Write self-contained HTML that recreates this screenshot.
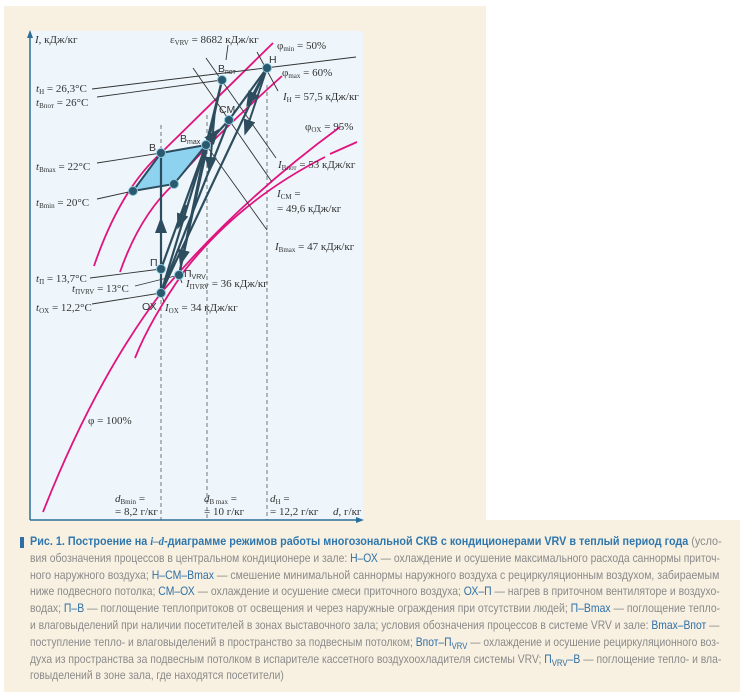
<!DOCTYPE html>
<html><head><meta charset="utf-8"><style>
body{margin:0;width:746px;height:698px;background:#fff;overflow:hidden;position:relative;font-family:"Liberation Sans",sans-serif}
.bg{position:absolute;left:4px;top:6px;width:482px;height:516px;background:#f8f1e2}
.cap{position:absolute;left:4px;top:520px;width:736px;height:172px;background:#f8f1e2}
.txt{position:absolute;left:30px;top:533px;width:700px;font-size:12px;line-height:16.8px;color:#8a8a8a}
.txt div{white-space:nowrap;height:16.8px}
.txt div span.l{display:inline-block;transform-origin:0 0}
.b{color:#2f77ad;font-weight:bold}
.t{color:#2f6fa5}
.sb{font-size:9px;position:relative;top:3px}
.mk{position:absolute;left:20px;top:537px;width:4px;height:11px;background:#2f6fa5}
svg{position:absolute;left:0;top:0}
svg text{font-family:"Liberation Serif",serif;font-size:11px;fill:#333}
.s{font-family:"Liberation Sans",sans-serif;font-size:10.5px;fill:#333}
</style></head><body>
<div class="bg"></div><div class="cap"></div>
<svg width="746" height="698">
<rect x="30" y="31" width="333" height="489" fill="#eef6fb"/>
<defs><marker id="a" markerWidth="8" markerHeight="8" refX="4" refY="4" orient="auto"><path d="M0,1 L8,4 L0,7z" fill="#2d4d5e"/></marker></defs>
<line x1="30" y1="520" x2="30" y2="34" stroke="#2c6f9a" stroke-width="1.5"/>
<path d="M27,38 L30,30 L33,38z" fill="#2c6f9a"/>
<line x1="30" y1="520" x2="360" y2="520" stroke="#2c6f9a" stroke-width="1.5"/>
<path d="M356,517 L364,520 L356,523z" fill="#2c6f9a"/>
<g stroke="#555" stroke-dasharray="4,3" stroke-width="0.8">
<line x1="161" y1="125" x2="161" y2="520"/><line x1="207" y1="115" x2="207" y2="520"/><line x1="267" y1="85" x2="267" y2="520"/></g>
<g fill="none" stroke="#e0147f" stroke-width="1.8">
<path d="M94,266 Q120,190 161,153 Q200,115 273,43"/>
<path d="M120,272 Q140,215 174,184 Q200,150 282,76"/>
<path d="M43,512 Q95,380 161,293 Q240,200 340,127"/>
<path d="M135,358 Q150,320 185,270 Q240,200 325,157 M330,154 L357,142"/>
</g>
<g stroke="#333" stroke-width="0.9" fill="none">
<line x1="92" y1="89" x2="356" y2="57"/>
<line x1="97" y1="97" x2="222" y2="80"/>
<line x1="97" y1="163" x2="161" y2="153"/>
<line x1="97" y1="199" x2="133" y2="191"/>
<line x1="90" y1="278" x2="161" y2="269"/>
<line x1="135" y1="286" x2="179" y2="275"/>
<line x1="92" y1="304" x2="161" y2="293"/>
<line x1="257" y1="52" x2="278" y2="91"/>
<line x1="206" y1="58" x2="276" y2="158"/>
<line x1="193" y1="68" x2="272" y2="182"/>
<line x1="206" y1="145" x2="267" y2="230"/>
<line x1="161" y1="293" x2="164" y2="302"/>
<line x1="179" y1="275" x2="182" y2="283"/>
<line x1="228" y1="45" x2="226" y2="60"/>
</g>
<polygon points="161,153 206,145 174,184 133,191" fill="#8dd3f0" stroke="#2d4d5e" stroke-width="2"/>
<g stroke="#2d4d5e" stroke-width="2.2" fill="none">
<line x1="267" y1="68" x2="161" y2="293"/>
<line x1="267" y1="68" x2="229" y2="120"/>
<line x1="229" y1="120" x2="161" y2="293"/>
<line x1="229" y1="120" x2="206" y2="145"/>
<line x1="161" y1="293" x2="161" y2="153"/>
<line x1="161" y1="269" x2="206" y2="145"/>
<line x1="206" y1="145" x2="222" y2="80"/>
<line x1="222" y1="80" x2="179" y2="275"/>
<line x1="179" y1="275" x2="206" y2="145"/>
<line x1="161" y1="293" x2="206" y2="145"/>
</g>
<g stroke="#2d4d5e" stroke-width="2" marker-end="url(#a)">
<line x1="267" y1="68" x2="250" y2="100"/>
<line x1="267" y1="68" x2="247" y2="128"/>
<line x1="206" y1="145" x2="214" y2="135"/>
<line x1="161" y1="240" x2="161" y2="225"/>
<line x1="215" y1="110" x2="210" y2="165"/>
<line x1="186" y1="205" x2="180" y2="222"/>
<line x1="188" y1="235" x2="182" y2="258"/>
</g>
<g fill="#2b5a6e" stroke="#89c7de" stroke-width="1">
<circle cx="267" cy="68" r="4.5"/><circle cx="222" cy="80" r="4.5"/><circle cx="229" cy="120" r="4.5"/>
<circle cx="206" cy="145" r="4.5"/><circle cx="161" cy="153" r="4.5"/><circle cx="133" cy="191" r="4.5"/>
<circle cx="174" cy="184" r="4.5"/><circle cx="161" cy="269" r="4.5"/><circle cx="179" cy="275" r="4.5"/><circle cx="161" cy="293" r="4.5"/>
</g>
<text x="35" y="43"><tspan font-style="italic">I</tspan>, кДж/кг</text>
<text x="170" y="43">ε<tspan font-size="7" dy="2">VRV</tspan><tspan dy="-2"> = 8682 кДж/кг</tspan></text>
<text x="277" y="49">φ<tspan font-size="7" dy="2">min</tspan><tspan dy="-2"> = 50%</tspan></text>
<text x="282" y="76">φ<tspan font-size="7" dy="2">max</tspan><tspan dy="-2"> = 60%</tspan></text>
<text x="283" y="100"><tspan font-style="italic">I</tspan><tspan font-size="7" dy="2">H</tspan><tspan dy="-2"> = 57,5 кДж/кг</tspan></text>
<text x="305" y="130">φ<tspan font-size="7" dy="2">OX</tspan><tspan dy="-2"> = 95%</tspan></text>
<text x="278" y="168"><tspan font-style="italic">I</tspan><tspan font-size="7" dy="2">Впот</tspan><tspan dy="-2"> = 53 кДж/кг</tspan></text>
<text x="277" y="197"><tspan font-style="italic">I</tspan><tspan font-size="7" dy="2">СМ</tspan><tspan dy="-2"> =</tspan></text>
<text x="277" y="212">= 49,6 кДж/кг</text>
<text x="275" y="250"><tspan font-style="italic">I</tspan><tspan font-size="7" dy="2">Bmax</tspan><tspan dy="-2"> = 47 кДж/кг</tspan></text>
<text x="186" y="287"><tspan font-style="italic">I</tspan><tspan font-size="7" dy="2">ПVRV</tspan><tspan dy="-2"> = 36 кДж/кг</tspan></text>
<text x="165" y="311"><tspan font-style="italic">I</tspan><tspan font-size="7" dy="2">OX</tspan><tspan dy="-2"> = 34 кДж/кг</tspan></text>
<text x="36" y="92"><tspan font-style="italic">t</tspan><tspan font-size="7" dy="2">H</tspan><tspan dy="-2"> = 26,3°C</tspan></text>
<text x="36" y="106"><tspan font-style="italic">t</tspan><tspan font-size="7" dy="2">Впот</tspan><tspan dy="-2"> = 26°C</tspan></text>
<text x="36" y="170"><tspan font-style="italic">t</tspan><tspan font-size="7" dy="2">Bmax</tspan><tspan dy="-2"> = 22°C</tspan></text>
<text x="36" y="206"><tspan font-style="italic">t</tspan><tspan font-size="7" dy="2">Bmin</tspan><tspan dy="-2"> = 20°C</tspan></text>
<text x="36" y="282"><tspan font-style="italic">t</tspan><tspan font-size="7" dy="2">П</tspan><tspan dy="-2"> = 13,7°C</tspan></text>
<text x="72" y="292"><tspan font-style="italic">t</tspan><tspan font-size="7" dy="2">ПVRV</tspan><tspan dy="-2"> = 13°C</tspan></text>
<text x="36" y="311"><tspan font-style="italic">t</tspan><tspan font-size="7" dy="2">OX</tspan><tspan dy="-2"> = 12,2°C</tspan></text>
<text x="88" y="424">φ = 100%</text>
<text x="115" y="502"><tspan font-style="italic">d</tspan><tspan font-size="7" dy="2">Bmin</tspan><tspan dy="-2"> =</tspan></text>
<text x="115" y="515">= 8,2 г/кг</text>
<text x="204" y="502"><tspan font-style="italic">d</tspan><tspan font-size="7" dy="2">B max</tspan><tspan dy="-2"> =</tspan></text>
<text x="204" y="515">= 10 г/кг</text>
<text x="270" y="502"><tspan font-style="italic">d</tspan><tspan font-size="7" dy="2">H</tspan><tspan dy="-2"> =</tspan></text>
<text x="270" y="515">= 12,2 г/кг</text>
<text x="333" y="515"><tspan font-style="italic">d</tspan>, г/кг</text>
<text class="s" x="269" y="63">Н</text>
<text class="s" x="218" y="72">В<tspan font-size="7" dy="2">пот</tspan></text>
<text class="s" x="219" y="113">СМ</text>
<text class="s" x="180" y="142">В<tspan font-size="7" dy="2">max</tspan></text>
<text class="s" x="149" y="151">В</text>
<text class="s" x="150" y="266">П</text>
<text class="s" x="184" y="277">П<tspan font-size="7" dy="2">VRV</tspan></text>
<text class="s" x="142" y="310">ОХ</text>
</svg>
<div class="mk"></div>
<div class="txt">
<div><span class="l" style="transform:scaleX(0.90)"><span class="b">Рис. 1. Построение на <i style="font-family:'Liberation Serif',serif">i–d</i>-диаграмме режимов работы многозональной СКВ с кондиционерами VRV в теплый период года</span> (усло-</span></div>
<div><span class="l" style="transform:scaleX(0.862)">вия обозначения процессов в центральном кондиционере и зале: <span class="t">Н–ОХ</span> — охлаждение и осушение максимального расхода саннормы приточ-</span></div>
<div><span class="l" style="transform:scaleX(0.875)">ного наружного воздуха; <span class="t">Н–СМ–Bmax</span> — смешение минимальной саннормы наружного воздуха с рециркуляционным воздухом, забираемым</span></div>
<div><span class="l" style="transform:scaleX(0.866)">ниже подвесного потолка; <span class="t">СМ–ОХ</span> — охлаждение и осушение смеси приточного воздуха; <span class="t">ОХ–П</span> — нагрев в приточном вентиляторе и воздухо-</span></div>
<div><span class="l" style="transform:scaleX(0.87)">водах; <span class="t">П–В</span> — поглощение теплопритоков от освещения и через наружные ограждения при отсутствии людей; <span class="t">П–Bmax</span> — поглощение тепло-</span></div>
<div><span class="l" style="transform:scaleX(0.86)">и влаговыделений при наличии посетителей в зонах выставочного зала; условия обозначения процессов в системе VRV и зале: <span class="t">Bmax–Bпот</span> —</span></div>
<div><span class="l" style="transform:scaleX(0.86)">поступление тепло- и влаговыделений в пространство за подвесным потолком; <span class="t">Bпот–П<span class="sb">VRV</span></span> — охлаждение и осушение рециркуляционного воз-</span></div>
<div><span class="l" style="transform:scaleX(0.865)">духа из пространства за подвесным потолком в испарителе кассетного воздухоохладителя системы VRV; <span class="t">П<span class="sb">VRV</span>–В</span> — поглощение тепло- и вла-</span></div>
<div><span class="l" style="transform:scaleX(0.86)">говыделений в зоне зала, где находятся посетители)</span></div>
</div>
</body></html>
